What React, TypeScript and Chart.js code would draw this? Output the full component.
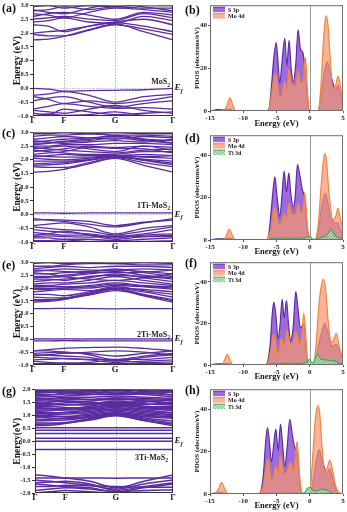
import React, { useEffect, useRef } from "react";
import { Chart, registerables } from "chart.js";

Chart.register(...registerables);

const FONT = "'Liberation Serif', 'Times New Roman', serif";
const BAND_COLOR = "#5a2ca0";

// ---- band-structure k-path ----
const K_POS = [0, 0.11, 0.22, 0.4, 0.586, 0.79, 1];
const K_TICK_POS = [0, 0.22, 0.586, 1];
const K_TICK_LABELS = ["Γ", "F", "G", "Γ"];
const BAND_Y_TICKS = [-1, -0.5, 0, 0.5, 1, 1.5, 2, 2.5, 3];
const BAND_Y_TICKS_G = [-2, -1.5, -1, -0.5, 0, 0.5, 1, 1.5, 2];

// (a) MoS2
const BANDS_MOS2 = [
  [0.0, -0.03, -0.1, -0.08, -0.07, -0.05, 0.0],
  [-0.25, -0.2, -0.12, -0.25, -0.5, -0.3, -0.22],
  [-0.3, -0.4, -0.55, -0.45, -0.55, -0.45, -0.3],
  [-0.45, -0.35, -0.3, -0.5, -0.68, -0.55, -0.45],
  [-0.75, -0.65, -0.55, -0.65, -0.72, -0.7, -0.75],
  [-0.8, -0.85, -0.9, -0.75, -0.62, -0.8, -0.9],
  [-0.9, -0.95, -0.75, -0.85, -0.95, -0.9, -0.85],
  [-1.0, -0.92, -0.98, -0.95, -0.85, -0.98, -1.0],
  [1.75, 1.78, 1.88, 2.12, 2.33, 2.05, 1.75],
  [1.95, 1.9, 1.9, 2.1, 2.3, 2.15, 1.95],
  [2.0, 2.05, 2.1, 2.25, 2.38, 2.25, 2.05],
  [2.3, 2.25, 2.05, 2.25, 2.4, 2.5, 2.3],
  [2.4, 2.45, 2.55, 2.4, 2.35, 2.6, 2.45],
  [2.5, 2.55, 2.6, 2.5, 2.45, 2.7, 2.55],
  [2.6, 2.7, 2.75, 2.65, 2.5, 2.75, 2.65],
  [2.7, 2.65, 2.55, 2.75, 2.9, 2.85, 2.75],
  [2.8, 2.85, 2.95, 2.85, 2.95, 2.9, 2.9],
  [2.95, 3.0, 2.9, 3.0, 2.95, 3.05, 3.0],
  [2.85, 2.75, 2.7, 2.9, 3.05, 2.95, 2.8],
];

// (c) 1Ti-MoS2
const BANDS_1TI = [
  [0.06, 0.06, 0.05, 0.06, 0.06, 0.06, 0.06],
  [-0.15, -0.2, -0.25, -0.35, -0.45, -0.3, -0.15],
  [-0.2, -0.18, -0.2, -0.25, -0.4, -0.28, -0.2],
  [-0.4, -0.35, -0.3, -0.45, -0.7, -0.5, -0.4],
  [-0.45, -0.5, -0.55, -0.6, -0.75, -0.6, -0.45],
  [-0.55, -0.6, -0.65, -0.7, -0.8, -0.7, -0.55],
  [-0.65, -0.7, -0.75, -0.75, -0.85, -0.75, -0.7],
  [-0.75, -0.7, -0.6, -0.75, -0.9, -0.8, -0.75],
  [-0.85, -0.85, -0.9, -0.9, -0.95, -0.9, -0.85],
  [-0.95, -0.95, -0.92, -0.98, -0.95, -0.98, -0.95],
  [-0.8, -0.78, -0.8, -0.82, -0.78, -0.8, -0.8],
  [1.55, 1.58, 1.65, 1.85, 2.05, 1.8, 1.55],
  [1.75, 1.72, 1.72, 1.9, 2.08, 1.9, 1.75],
  [1.8, 1.82, 1.85, 1.98, 2.12, 1.98, 1.82],
  [1.85, 1.88, 1.9, 2.0, 2.15, 2.0, 1.88],
  [1.95, 1.95, 1.95, 2.0, 2.1, 2.02, 1.95],
  [2.05, 2.02, 2.0, 2.05, 2.15, 2.1, 2.05],
  [2.1, 2.15, 2.2, 2.15, 2.15, 2.2, 2.15],
  [2.15, 2.12, 2.1, 2.1, 2.15, 2.12, 2.15],
  [2.2, 2.25, 2.3, 2.45, 2.42, 2.4, 2.25],
  [2.3, 2.35, 2.4, 2.5, 2.45, 2.5, 2.35],
  [2.4, 2.45, 2.5, 2.4, 2.3, 2.5, 2.45],
  [2.5, 2.5, 2.55, 2.55, 2.6, 2.6, 2.55],
  [2.55, 2.6, 2.65, 2.7, 2.8, 2.7, 2.6],
  [2.6, 2.62, 2.68, 2.75, 2.9, 2.75, 2.62],
  [2.65, 2.7, 2.75, 2.8, 2.85, 2.75, 2.7],
  [2.75, 2.8, 2.85, 2.8, 2.75, 2.85, 2.8],
  [2.85, 2.9, 2.9, 2.95, 2.9, 2.9, 2.85],
  [2.95, 2.95, 3.0, 2.95, 3.0, 2.95, 2.95],
  [2.45, 2.4, 2.35, 2.3, 2.25, 2.35, 2.4],
  [2.35, 2.3, 2.25, 2.2, 2.2, 2.3, 2.3],
  [2.7, 2.65, 2.6, 2.65, 2.7, 2.65, 2.75],
];

// (e) 2Ti-MoS2
const BANDS_2TI = [
  [0.02, 0.02, 0.02, 0.02, 0.02, 0.02, 0.02],
  [-0.06, -0.06, -0.05, -0.06, -0.06, -0.06, -0.06],
  [-0.45, -0.4, -0.35, -0.32, -0.3, -0.35, -0.45],
  [-0.45, -0.45, -0.5, -0.55, -0.65, -0.55, -0.45],
  [-0.55, -0.52, -0.5, -0.6, -0.8, -0.65, -0.55],
  [-0.6, -0.62, -0.65, -0.7, -0.85, -0.7, -0.6],
  [-0.7, -0.72, -0.75, -0.78, -0.78, -0.78, -0.7],
  [-0.8, -0.78, -0.75, -0.8, -0.9, -0.85, -0.8],
  [-0.85, -0.9, -0.92, -0.9, -0.82, -0.9, -0.88],
  [-0.95, -0.95, -0.95, -0.95, -0.95, -0.95, -0.95],
  [-0.65, -0.6, -0.55, -0.5, -0.45, -0.5, -0.62],
  [1.2, 1.2, 1.21, 1.2, 1.19, 1.2, 1.2],
  [1.45, 1.48, 1.55, 1.75, 1.95, 1.7, 1.45],
  [1.5, 1.52, 1.58, 1.72, 1.9, 1.72, 1.5],
  [1.55, 1.55, 1.6, 1.78, 1.98, 1.75, 1.55],
  [1.65, 1.62, 1.62, 1.8, 2.0, 1.85, 1.65],
  [1.75, 1.75, 1.7, 1.85, 2.05, 1.9, 1.75],
  [1.85, 1.9, 1.95, 1.9, 2.0, 1.95, 1.85],
  [1.95, 1.95, 2.0, 2.0, 2.1, 2.05, 1.95],
  [2.0, 1.98, 2.0, 2.05, 2.15, 2.08, 2.0],
  [2.05, 2.05, 2.05, 2.1, 2.2, 2.1, 2.05],
  [2.15, 2.2, 2.2, 2.3, 2.45, 2.3, 2.15],
  [2.25, 2.3, 2.35, 2.4, 2.55, 2.4, 2.25],
  [2.35, 2.35, 2.3, 2.45, 2.5, 2.45, 2.35],
  [2.4, 2.42, 2.45, 2.55, 2.65, 2.5, 2.4],
  [2.45, 2.45, 2.5, 2.6, 2.75, 2.6, 2.45],
  [2.55, 2.55, 2.6, 2.65, 2.7, 2.65, 2.55],
  [2.65, 2.7, 2.75, 2.7, 2.7, 2.75, 2.7],
  [2.7, 2.68, 2.65, 2.6, 2.6, 2.62, 2.7],
  [2.75, 2.8, 2.85, 2.8, 2.85, 2.85, 2.8],
  [2.85, 2.85, 2.9, 2.95, 2.95, 2.9, 2.9],
  [2.95, 3.0, 2.95, 3.0, 2.95, 3.0, 2.95],
  [2.6, 2.55, 2.45, 2.35, 2.3, 2.4, 2.55],
  [2.1, 2.1, 2.15, 2.2, 2.3, 2.2, 2.1],
];

// (g) 3Ti-MoS2
const BANDS_3TI = [
  [0.11, 0.11, 0.11, 0.11, 0.11, 0.11, 0.11],
  [0.0, 0.0, 0.0, 0.0, 0.0, 0.0, 0.0],
  [-0.32, -0.32, -0.32, -0.32, -0.32, -0.32, -0.32],
  [0.3, 0.3, 0.3, 0.3, 0.3, 0.3, 0.3],
  [0.42, 0.42, 0.42, 0.42, 0.42, 0.42, 0.42],
  [0.52, 0.52, 0.52, 0.52, 0.52, 0.52, 0.52],
  [0.6, 0.62, 0.68, 0.85, 1.0, 0.8, 0.6],
  [0.65, 0.66, 0.7, 0.82, 0.98, 0.8, 0.65],
  [0.7, 0.7, 0.72, 0.88, 1.02, 0.85, 0.7],
  [0.78, 0.8, 0.82, 0.92, 1.05, 0.9, 0.78],
  [0.85, 0.85, 0.9, 0.95, 1.08, 0.95, 0.88],
  [0.92, 0.95, 0.95, 1.0, 1.1, 1.0, 0.95],
  [0.95, 0.9, 0.88, 0.95, 1.05, 0.95, 0.92],
  [1.0, 1.02, 1.05, 1.1, 1.2, 1.1, 1.02],
  [1.05, 1.08, 1.1, 1.15, 1.25, 1.15, 1.08],
  [1.1, 1.1, 1.12, 1.2, 1.3, 1.2, 1.1],
  [1.2, 1.2, 1.2, 1.25, 1.35, 1.25, 1.2],
  [1.25, 1.25, 1.28, 1.3, 1.42, 1.32, 1.25],
  [1.3, 1.28, 1.25, 1.35, 1.5, 1.35, 1.3],
  [1.38, 1.4, 1.42, 1.45, 1.55, 1.45, 1.4],
  [1.4, 1.42, 1.48, 1.55, 1.65, 1.55, 1.45],
  [1.45, 1.5, 1.55, 1.5, 1.45, 1.55, 1.48],
  [1.5, 1.45, 1.4, 1.4, 1.5, 1.42, 1.5],
  [1.55, 1.55, 1.6, 1.6, 1.6, 1.6, 1.55],
  [1.58, 1.62, 1.65, 1.62, 1.68, 1.65, 1.6],
  [1.62, 1.65, 1.7, 1.7, 1.75, 1.7, 1.65],
  [1.7, 1.72, 1.75, 1.8, 1.9, 1.8, 1.72],
  [1.8, 1.8, 1.82, 1.85, 1.95, 1.85, 1.8],
  [1.85, 1.88, 1.92, 1.95, 1.98, 1.95, 1.88],
  [1.88, 1.9, 1.9, 1.92, 2.0, 1.92, 1.9],
  [1.92, 1.9, 1.85, 1.8, 1.8, 1.82, 1.9],
  [1.95, 1.95, 1.98, 2.0, 2.05, 2.0, 1.95],
  [1.35, 1.35, 1.3, 1.25, 1.2, 1.3, 1.35],
  [1.65, 1.6, 1.55, 1.45, 1.4, 1.5, 1.6],
  [1.0, 0.98, 0.95, 1.05, 1.15, 1.05, 1.0],
  [1.15, 1.18, 1.22, 1.3, 1.4, 1.3, 1.18],
  [1.75, 1.78, 1.85, 1.9, 1.85, 1.88, 1.78],
  [-1.3, -1.35, -1.42, -1.55, -1.8, -1.55, -1.3],
  [-1.42, -1.42, -1.42, -1.42, -1.43, -1.42, -1.42],
  [-1.5, -1.55, -1.6, -1.7, -1.85, -1.65, -1.5],
  [-1.6, -1.58, -1.55, -1.65, -1.9, -1.75, -1.6],
  [-1.65, -1.7, -1.75, -1.8, -1.95, -1.8, -1.65],
  [-1.75, -1.75, -1.7, -1.72, -1.75, -1.78, -1.78],
  [-1.9, -1.85, -1.8, -1.85, -1.95, -1.9, -1.88],
  [-2.0, -1.95, -1.9, -1.95, -2.0, -1.98, -2.0],
];

// ---- PDOS ----
const PDOS_X_TICKS = [-15, -10, -5, 0, 5];
const PDOS_Y_TICKS = [0, 20, 40];
const PDOS_Y_MAX = 49.5;

type Pt = [number, number];

const S3P_B: Pt[] = [[-15,0],[-14.5,0.3],[-14,0.6],[-13.5,0.7],[-13,0.5],[-12.5,0.6],[-12,1],[-11.5,0.3],[-11,0],[-6.5,0],[-6.1,1.5],[-5.8,10],[-5.4,25],[-5.05,32],[-4.8,24],[-4.5,13],[-4.2,22],[-3.75,34],[-3.45,21],[-3.1,33],[-2.8,20],[-2.45,14],[-2.1,22],[-1.75,38],[-1.4,29],[-1.0,27],[-0.65,17],[-0.35,5],[-0.1,0],[1.2,0],[1.6,4],[2.0,14],[2.3,20],[2.65,23],[3.0,19],[3.5,13],[3.9,10],[4.25,12],[4.6,8],[5,4]];
const MO4D_B: Pt[] = [[-15,0],[-12.9,0.5],[-12.4,3],[-12,6.2],[-11.6,3],[-11.2,0.2],[-10.8,0],[-6.5,0],[-6.1,1],[-5.8,7],[-5.4,15],[-5.1,17.5],[-4.8,12],[-4.5,6],[-4.2,8],[-3.75,14],[-3.45,9],[-3.1,19.5],[-2.8,13],[-2.45,12],[-2.1,12],[-1.75,19],[-1.4,13],[-1.0,14],[-0.65,25],[-0.35,10],[-0.1,1],[0.1,0],[1.2,0],[1.6,8],[2.0,30],[2.3,42],[2.5,44.5],[2.75,40],[3.0,28],[3.5,10.5],[3.9,12],[4.25,16.3],[4.6,12],[5,4]];

const S3P_D: Pt[] = [[-15,0],[-14.5,0.3],[-14,0.5],[-13.5,0.6],[-13,0.5],[-12.5,0.6],[-12.1,1],[-11.6,0.3],[-11,0],[-6.6,0],[-6.2,2],[-5.85,12],[-5.5,24],[-5.25,29.8],[-4.9,20],[-4.5,11],[-4.2,20],[-3.85,32.5],[-3.5,22.7],[-3.15,31.7],[-2.85,22],[-2.5,15.7],[-2.2,20],[-1.85,35.6],[-1.5,30.6],[-1.1,23.5],[-0.75,20],[-0.4,6],[-0.1,0],[0.8,0],[1.3,5],[1.7,14],[2.0,19],[2.35,22],[2.7,18],[3.1,11],[3.5,9],[3.9,8],[4.25,8],[4.6,5],[5,2]];
const MO4D_D: Pt[] = [[-15,0],[-12.9,0.3],[-12.5,2.5],[-12.1,5.2],[-11.7,2.5],[-11.3,0.2],[-10.9,0],[-6.6,0],[-6.2,1.5],[-5.8,6],[-5.5,13],[-5.25,15.7],[-4.9,11],[-4.6,7],[-4.2,9],[-3.85,12.5],[-3.5,10],[-3.1,17.3],[-2.8,13],[-2.5,11.8],[-2.1,12],[-1.75,17.3],[-1.35,12.5],[-1.0,15],[-0.75,22.4],[-0.4,8],[-0.1,1],[0.1,0],[0.8,0],[1.3,8],[1.7,25],[2.0,36],[2.25,40.8],[2.5,38],[2.9,22],[3.5,9.4],[3.9,11],[4.25,15],[4.6,10],[5,5]];
const TI3D_D: Pt[] = [[-15,0],[-13,0.1],[-12,0.2],[-11,0],[-7,0],[-6.2,0.2],[-5.5,1],[-4.5,0.8],[-3.5,1],[-2.5,0.8],[-1.5,1],[-0.8,0.8],[-0.3,1.5],[0,1.8],[0.4,0.5],[0.9,0.3],[1.5,1],[2.0,1.5],[2.5,2],[2.9,4],[3.25,5.2],[3.6,3],[4.0,1.5],[4.5,1],[5,0.5]];

const S3P_F: Pt[] = [[-15,0],[-14.5,0.3],[-14,0.5],[-13.5,0.5],[-13,0.5],[-12.4,0.8],[-12,0.5],[-11.5,0],[-6.7,0],[-6.3,2],[-5.95,10],[-5.65,24],[-5.4,30.3],[-5.1,24],[-4.75,12.4],[-4.45,20],[-4.15,31.6],[-3.85,22.5],[-3.5,31],[-3.2,20],[-2.9,11.7],[-2.5,18],[-2.1,35.3],[-1.75,26.4],[-1.4,17.9],[-1.1,19],[-0.9,20],[-0.6,8],[-0.2,0],[0.3,0],[0.7,1],[1.1,6],[1.5,12],[1.9,17],[2.25,20],[2.6,17],[3.0,12],[3.4,9],[4.0,10],[4.5,6],[5,3]];
const MO4D_F: Pt[] = [[-15,0],[-13.2,0.3],[-12.8,2.5],[-12.4,5.1],[-12,2.5],[-11.6,0.2],[-11.2,0],[-6.7,0],[-6.3,1],[-5.95,5],[-5.65,12],[-5.4,14.8],[-5.1,10],[-4.85,4.7],[-4.55,8],[-4.25,13.2],[-3.85,9.3],[-3.4,16.8],[-3.1,12],[-2.9,9.6],[-2.5,11],[-2.1,16.3],[-1.8,13],[-1.5,10],[-1.2,14],[-0.9,24.9],[-0.6,15],[-0.35,3],[-0.1,0],[0.3,0],[0.65,1],[1.0,12],[1.4,30],[1.8,39],[2.1,41.2],[2.4,36],[2.8,20],[3.25,10.9],[3.6,12],[4.0,15.2],[4.5,8],[5,3]];
const TI3D_F: Pt[] = [[-15,0],[-12,0.2],[-10.5,0],[-10,0.4],[-9.5,0],[-7,0],[-6.2,0.3],[-5.5,0.8],[-4.5,0.7],[-3.5,0.8],[-2.5,0.7],[-1.5,0.8],[-0.8,1],[-0.4,1.5],[0,2.8],[0.3,1],[0.65,1.5],[0.9,4],[1.15,5.4],[1.5,3.5],[2,2.5],[2.5,2.5],[3,2],[3.5,2.2],[4,1.5],[4.5,0.8],[5,0.3]];

const S3P_H: Pt[] = [[-15,0],[-14.5,0.3],[-14,0.5],[-13.6,0.8],[-13.2,0.6],[-12.8,0.2],[-12.3,0],[-7.7,0],[-7.3,2],[-6.95,10],[-6.65,24],[-6.35,31.4],[-6.05,24],[-5.75,15],[-5.4,24],[-5.1,30.6],[-4.75,20.5],[-4.4,33],[-4.1,24],[-3.75,12.8],[-3.4,22],[-3.0,35.3],[-2.6,27.5],[-2.25,22],[-1.9,20],[-1.6,8],[-1.3,1],[-1.0,0],[-0.2,0],[0.2,1],[0.6,8],[1.0,16],[1.4,21],[1.8,17],[2.25,12],[2.6,10],[3.0,12],[3.4,8],[3.8,3],[4.3,0],[5,0]];
const MO4D_H: Pt[] = [[-15,0],[-14.2,0.3],[-13.7,2.5],[-13.25,5.4],[-12.8,2.5],[-12.4,0.3],[-12,0],[-7.7,0],[-7.3,1],[-6.95,5],[-6.6,12],[-6.25,16.6],[-6.0,11],[-5.75,5.8],[-5.4,9],[-5.1,13.5],[-4.75,9.6],[-4.4,18.5],[-4.05,12],[-3.75,9.2],[-3.25,12],[-2.9,15],[-2.4,11],[-1.9,24.7],[-1.6,12],[-1.3,2],[-1.0,0],[-0.2,0],[0.1,3],[0.5,20],[0.8,34],[1.05,40],[1.25,41.8],[1.5,38],[1.85,22],[2.25,11.2],[2.6,12],[3.0,15.9],[3.4,12],[3.8,5],[4.3,1],[5,0]];
const TI3D_H: Pt[] = [[-15,0],[-8,0],[-7,0.2],[-5,0.3],[-3,0.3],[-1.5,0.3],[-0.8,0.5],[-0.4,2.5],[0,3.2],[0.3,2.5],[0.6,1.5],[1.0,1.5],[1.5,2],[2.0,2.3],[2.5,1.8],[3.0,1],[3.5,0.3],[4,0],[5,0]];

const LBL_S = "S 3p";
const LBL_MO = "Mo 4d";
const LBL_TI = "Ti 3d";

const S_LINE = "#5f2aa8";
const S_FILL = "rgba(145, 92, 215, 0.9)";
const MO_LINE = "#f2873a";
const MO_FILL = "rgba(246, 150, 112, 0.72)";
const TI_LINE = "#4aa468";

interface Rect { l: number; t: number; w: number; h: number }
interface Plot { l: number; t: number; r: number; b: number }

function font(size: number, style = "bold") {
  return `${style} ${size}px ${FONT}`;
}

function drawSub(ctx: CanvasRenderingContext2D, main: string, sub: string, x: number, baseline: number, size: number, align: "left" | "right", italic = false) {
  const f1 = font(size, italic ? "italic bold" : "bold");
  const f2 = font(size * 0.72, italic ? "italic bold" : "bold");
  ctx.font = f1;
  const w1 = ctx.measureText(main).width;
  ctx.font = f2;
  const w2 = ctx.measureText(sub).width;
  const x0 = align === "right" ? x - w1 - w2 : x;
  ctx.textAlign = "left";
  ctx.textBaseline = "alphabetic";
  ctx.fillStyle = "#222";
  ctx.font = f1;
  ctx.fillText(main, x0, baseline);
  ctx.font = f2;
  ctx.fillText(sub, x0 + w1, baseline + size * 0.28);
}

let hatchCache: CanvasPattern | null = null;
function hatch(): CanvasPattern | string {
  if (hatchCache) return hatchCache;
  const c = document.createElement("canvas");
  c.width = 3;
  c.height = 3;
  const g = c.getContext("2d");
  if (!g) return "rgba(150,210,170,0.8)";
  g.fillStyle = "rgba(180, 225, 190, 0.8)";
  g.fillRect(0, 0, 3, 3);
  g.fillStyle = "rgba(70, 155, 95, 0.6)";
  g.fillRect(0, 0, 1, 1);
  g.fillRect(2, 1, 1, 1);
  g.fillRect(1, 2, 1, 1);
  hatchCache = g.createPattern(c, "repeat");
  return hatchCache || "rgba(150,210,170,0.8)";
}

interface BandProps {
  canvas: Rect; plot: Plot; bands: number[][]; yTicks: number[]; yTitle: string;
  label: string; labelSub: string; labelE: number; labelRight: number; lineW: number;
}

function BandPanel(props: BandProps) {
  const ref = useRef<HTMLCanvasElement>(null);
  const { canvas: c, plot: p } = props;
  useEffect(() => {
    const yMin = props.yTicks[0];
    const yMax = props.yTicks[props.yTicks.length - 1];
    const decor = {
      id: "bandDecor",
      beforeDatasetsDraw(chart: any) {
        const { ctx, chartArea: a, scales } = chart;
        ctx.save();
        ctx.strokeStyle = "#9a9a9a";
        ctx.lineWidth = 0.8;
        ctx.setLineDash([1.5, 1.5]);
        for (const k of [K_TICK_POS[1], K_TICK_POS[2]]) {
          const px = Math.round(scales.x.getPixelForValue(k)) + 0.5;
          ctx.beginPath(); ctx.moveTo(px, a.top); ctx.lineTo(px, a.bottom); ctx.stroke();
        }
        const py = scales.y.getPixelForValue(0);
        ctx.beginPath(); ctx.moveTo(a.left, py); ctx.lineTo(a.right, py); ctx.stroke();
        ctx.restore();
      },
      afterDatasetsDraw(chart: any) {
        const { ctx, chartArea: a, scales } = chart;
        ctx.save();
        ctx.strokeStyle = "#333";
        ctx.lineWidth = 1;
        ctx.strokeRect(a.left + 0.5, a.top + 0.5, a.right - a.left - 1, a.bottom - a.top - 1);
        const yl = scales.y.getPixelForValue(props.labelE);
        drawSub(ctx, props.label, props.labelSub, props.labelRight, yl, 8, "right");
        const y0 = scales.y.getPixelForValue(0);
        drawSub(ctx, "E", "f", a.right + 1.5, y0 + 2, 9, "left", true);
        ctx.restore();
      },
    };
    const chart = new Chart(ref.current as HTMLCanvasElement, {
      type: "line",
      data: {
        datasets: props.bands.map((b) => ({
          data: K_POS.map((k, i) => ({ x: k, y: b[i] })),
          borderColor: BAND_COLOR,
          borderWidth: props.lineW,
          pointRadius: 0,
          fill: false,
          cubicInterpolationMode: "monotone",
        })),
      },
      options: {
        animation: false,
        responsive: false,
        events: [],
        layout: { padding: { left: 0, top: p.t - c.t, right: c.l + c.w - p.r, bottom: 0 } },
        plugins: { legend: { display: false }, tooltip: { enabled: false } },
        scales: {
          x: {
            type: "linear", min: 0, max: 1,
            afterBuildTicks: (s: any) => { s.ticks = K_TICK_POS.map((v) => ({ value: v })); },
            afterFit: (s: any) => { s.height = c.t + c.h - p.b; },
            ticks: { autoSkip: false, maxRotation: 0, padding: 0, color: "#222", font: { family: FONT, size: 8.5, weight: "bold" }, callback: (_v: any, i: number) => K_TICK_LABELS[i] },
            grid: { display: false, drawTicks: false, tickLength: 0 },
            border: { display: false },
          },
          y: {
            type: "linear", min: yMin, max: yMax,
            afterBuildTicks: (s: any) => { s.ticks = props.yTicks.map((v) => ({ value: v })); },
            afterFit: (s: any) => { s.width = p.l - c.l; },
            ticks: { autoSkip: false, padding: 1.5, color: "#222", font: { family: FONT, size: 6.5, weight: "bold" }, callback: (v: any) => Number(v).toFixed(1) },
            grid: { drawOnChartArea: false, tickLength: 3, color: "#333" },
            border: { display: false },
            title: { display: true, text: props.yTitle, color: "#111", font: { family: FONT, size: 9.5, weight: "bold" }, padding: { top: 11.5, bottom: 0 } },
          },
        },
      } as any,
      plugins: [decor],
    } as any);
    return () => chart.destroy();
  }, []);
  return <canvas ref={ref} width={c.w} height={c.h} style={{ position: "absolute", left: c.l, top: c.t, width: c.w, height: c.h, display: "block" }} />;
}

interface Series { pts: Pt[]; label: string; line: string; fill: "S" | "MO" | "TI" }
interface PdosProps { canvas: Rect; plot: Plot; series: Series[]; titlePadBottom: number }

function fillFor(kind: string): any {
  if (kind === "S") return S_FILL;
  if (kind === "MO") return MO_FILL;
  return hatch();
}

function PdosPanel(props: PdosProps) {
  const ref = useRef<HTMLCanvasElement>(null);
  const { canvas: c, plot: p } = props;
  useEffect(() => {
    const decor = {
      id: "pdosDecor",
      beforeDatasetsDraw(chart: any) {
        const { ctx, chartArea: a, scales } = chart;
        ctx.save();
        ctx.strokeStyle = "#9a9a9a";
        ctx.lineWidth = 1;
        const px = Math.round(scales.x.getPixelForValue(0)) + 0.5;
        ctx.beginPath(); ctx.moveTo(px, a.top); ctx.lineTo(px, a.bottom); ctx.stroke();
        ctx.restore();
      },
      afterDatasetsDraw(chart: any) {
        const { ctx, chartArea: a } = chart;
        ctx.save();
        ctx.strokeStyle = "#6e6e6e";
        ctx.lineWidth = 1;
        ctx.strokeRect(a.left + 0.5, a.top + 0.5, a.right - a.left - 1, a.bottom - a.top - 1);
        props.series.forEach((s, i) => {
          const yc = a.top + 4.5 + i * 6.5;
          const x0 = a.left + 3;
          ctx.fillStyle = "#fff";
          ctx.fillRect(x0, yc - 2.5, 12, 5);
          ctx.fillStyle = fillFor(s.fill);
          ctx.fillRect(x0, yc - 2.5, 12, 5);
          ctx.strokeStyle = s.line;
          ctx.lineWidth = 1;
          ctx.beginPath(); ctx.moveTo(x0, yc - 2.5); ctx.lineTo(x0 + 12, yc - 2.5); ctx.stroke();
          ctx.fillStyle = "#222";
          ctx.font = font(6);
          ctx.textAlign = "left";
          ctx.textBaseline = "middle";
          ctx.fillText(s.label, x0 + 15, yc + 0.5);
        });
        ctx.restore();
      },
    };
    const order: Record<string, number> = { S: 3, MO: 2, TI: 1 };
    const chart = new Chart(ref.current as HTMLCanvasElement, {
      type: "line",
      data: {
        datasets: props.series.map((s) => ({
          label: s.label,
          data: s.pts.map(([x, y]) => ({ x, y })),
          borderColor: s.line,
          backgroundColor: fillFor(s.fill),
          borderWidth: 1.2,
          pointRadius: 0,
          fill: "origin",
          order: order[s.fill],
          cubicInterpolationMode: "monotone",
        })),
      },
      options: {
        animation: false,
        responsive: false,
        events: [],
        layout: { padding: { left: 0, top: p.t - c.t, right: c.l + c.w - p.r, bottom: 0 } },
        plugins: { legend: { display: false }, tooltip: { enabled: false } },
        scales: {
          x: {
            type: "linear", min: -15, max: 5,
            afterBuildTicks: (s: any) => { s.ticks = PDOS_X_TICKS.map((v) => ({ value: v })); },
            afterFit: (s: any) => { s.height = c.t + c.h - p.b; },
            ticks: { autoSkip: false, maxRotation: 0, padding: 0.5, color: "#222", font: { family: FONT, size: 7, weight: "bold" } },
            grid: { drawOnChartArea: false, tickLength: 2, color: "#555" },
            border: { display: false },
            title: { display: true, text: "Energy (eV)", color: "#111", font: { family: FONT, size: 8.5, weight: "bold" }, padding: { top: 0, bottom: props.titlePadBottom } },
          },
          y: {
            type: "linear", min: 0, max: PDOS_Y_MAX,
            afterBuildTicks: (s: any) => { s.ticks = PDOS_Y_TICKS.map((v) => ({ value: v })); },
            afterFit: (s: any) => { s.width = p.l - c.l; },
            ticks: { autoSkip: false, padding: 1, color: "#222", font: { family: FONT, size: 7, weight: "bold" } },
            grid: { drawOnChartArea: false, tickLength: 2, color: "#555" },
            border: { display: false },
            title: { display: true, text: "PDOS (electrons/eV)", color: "#111", font: { family: FONT, size: 7, weight: "bold" }, padding: { top: 7.5, bottom: 0 } },
          },
        },
      } as any,
      plugins: [decor],
    } as any);
    return () => chart.destroy();
  }, []);
  return <canvas ref={ref} width={c.w} height={c.h} style={{ position: "absolute", left: c.l, top: c.t, width: c.w, height: c.h, display: "block" }} />;
}

function PanelTag({ text, x, y }: { text: string; x: number; y: number }) {
  return (
    <div style={{ position: "absolute", left: x, top: y - 7, height: 14, lineHeight: "14px", font: `bold 12px ${FONT}`, color: "#111", whiteSpace: "nowrap" }}>
      {text}
    </div>
  );
}

const LEFT_W = 185;
const RIGHT_L = 185;
const RIGHT_W = 162;

export default function App() {
  const S2 = (pts: Pt[]): Series => ({ pts, label: LBL_S, line: S_LINE, fill: "S" });
  const M2 = (pts: Pt[]): Series => ({ pts, label: LBL_MO, line: MO_LINE, fill: "MO" });
  const T2 = (pts: Pt[]): Series => ({ pts, label: LBL_TI, line: TI_LINE, fill: "TI" });
  return (
    <div style={{ position: "absolute", left: 0, top: 0, width: 347, height: 512, background: "#fff", overflow: "hidden" }}>
      <BandPanel canvas={{ l: 0, t: 0, w: LEFT_W, h: 127 }} plot={{ l: 33, t: 5, r: 173, b: 116 }} bands={BANDS_MOS2} yTicks={BAND_Y_TICKS} yTitle="Energy (eV)" label="MoS" labelSub="2" labelE={0.14} labelRight={170} lineW={1.3} />
      <BandPanel canvas={{ l: 0, t: 127, w: LEFT_W, h: 130 }} plot={{ l: 33, t: 130, r: 173, b: 242 }} bands={BANDS_1TI} yTicks={BAND_Y_TICKS} yTitle="Energy (eV)" label="1Ti-MoS" labelSub="2" labelE={0.24} labelRight={170} lineW={1.3} />
      <BandPanel canvas={{ l: 0, t: 257, w: LEFT_W, h: 127 }} plot={{ l: 33, t: 260, r: 173, b: 365 }} bands={BANDS_2TI} yTicks={BAND_Y_TICKS} yTitle="Energy (eV)" label="2Ti-MoS" labelSub="2" labelE={0.1} labelRight={170} lineW={1.3} />
      <BandPanel canvas={{ l: 0, t: 384, w: LEFT_W, h: 128 }} plot={{ l: 35, t: 386, r: 173, b: 493 }} bands={BANDS_3TI} yTicks={BAND_Y_TICKS_G} yTitle="Energy(eV)" label="3Ti-MoS" labelSub="2" labelE={-0.72} labelRight={168} lineW={1.5} />

      <PdosPanel canvas={{ l: RIGHT_L, t: 0, w: RIGHT_W, h: 130 }} plot={{ l: 210, t: 5, r: 343, b: 111 }} series={[S2(S3P_B), M2(MO4D_B)]} titlePadBottom={0.9} />
      <PdosPanel canvas={{ l: RIGHT_L, t: 130, w: RIGHT_W, h: 127 }} plot={{ l: 210, t: 131, r: 343, b: 240 }} series={[S2(S3P_D), M2(MO4D_D), T2(TI3D_D)]} titlePadBottom={0} />
      <PdosPanel canvas={{ l: RIGHT_L, t: 257, w: RIGHT_W, h: 127 }} plot={{ l: 210, t: 260, r: 343, b: 365 }} series={[S2(S3P_F), M2(MO4D_F), T2(TI3D_F)]} titlePadBottom={1.9} />
      <PdosPanel canvas={{ l: RIGHT_L, t: 384, w: RIGHT_W, h: 128 }} plot={{ l: 210, t: 388, r: 343, b: 494 }} series={[S2(S3P_H), M2(MO4D_H), T2(TI3D_H)]} titlePadBottom={0.9} />

      <PanelTag text="(a)" x={2} y={8} />
      <PanelTag text="(b)" x={185} y={10} />
      <PanelTag text="(c)" x={2} y={133} />
      <PanelTag text="(d)" x={185} y={138} />
      <PanelTag text="(e)" x={2} y={265} />
      <PanelTag text="(f)" x={185} y={263} />
      <PanelTag text="(g)" x={2} y={391} />
      <PanelTag text="(h)" x={185} y={390} />
    </div>
  );
}
